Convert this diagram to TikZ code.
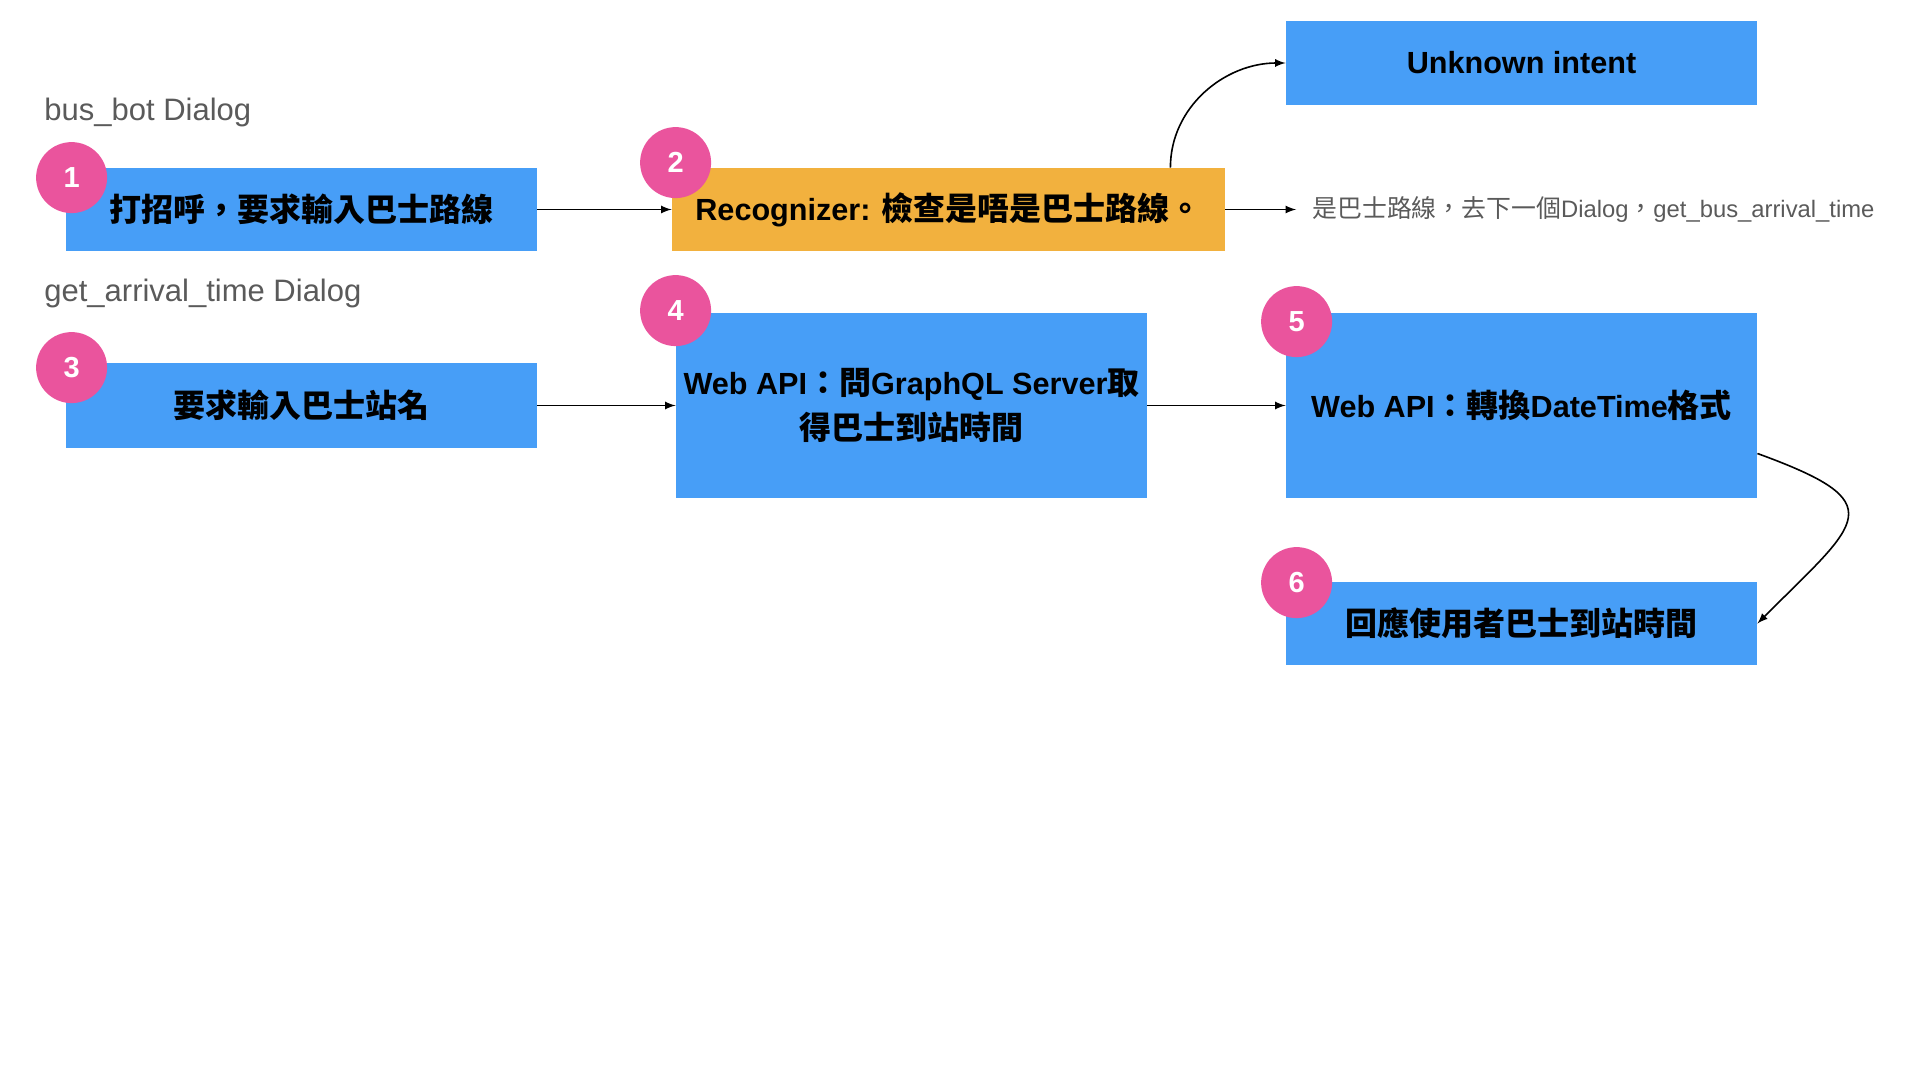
\documentclass[tikz,border=0pt]{standalone}
\usepackage{fontspec}
\setmainfont{Liberation Sans}
\newfontfamily\zhfont{Noto Sans CJK TC}[Scale=1.045]
\usetikzlibrary{positioning,arrows}
\definecolor{boxblue}{HTML}{479EF7}
\definecolor{recorange}{HTML}{F2B13E}
\definecolor{stepink}{HTML}{EA549D}
\definecolor{labelgrey}{HTML}{5A5A5A}

\begin{document}
\begin{tikzpicture}[x=0.5pt,y=-0.5pt,
  stepbox/.style={fill=boxblue,inner sep=0pt,minimum width=235.5pt,minimum height=41.5pt,align=center,font=\fontsize{15.3}{22.5}\selectfont\bfseries},
  stepnum/.style={circle,fill=stepink,text=white,minimum size=35.5pt,inner sep=0pt,font=\fontsize{14.5}{14.5}\selectfont\bfseries},
  dialog/.style={anchor=west,inner sep=0pt,text=labelgrey,font=\fontsize{15.5}{15.5}\selectfont},
  link/.style={-latex,thick}]
\useasboundingbox (0,0) rectangle (1920,1080);
\node (greet) [stepbox] at (301.5,209.5) {{\zhfont 打招呼，要求輸入巴士路線}};
\node (rec) [stepbox,fill=recorange,minimum width=276.5pt] at (948.5,209.5) {Recognizer: {\zhfont 檢查是唔是巴士路線。}};
\node (unknown) [stepbox,minimum height=42pt] at (1521.5,63) {Unknown intent};
\node (station) [stepbox,minimum height=42.5pt] at (301.5,405.5) {{\zhfont 要求輸入巴士站名}};
\node (query) [stepbox,minimum height=92.5pt] at (911.5,405.5) {Web API{\zhfont ：問}GraphQL Server{\zhfont 取}\\{\zhfont 得巴士到站時間}};
\node (convert) [stepbox,minimum height=92.5pt] at (1521.5,405.5) {Web API{\zhfont ：轉換}DateTime{\zhfont 格式}};
\node (reply) [stepbox] at (1521.5,623.5) {{\zhfont 回應使用者巴士到站時間}};

\node (botlbl) [dialog] at (44,112) {bus\_bot Dialog};
\node (arrlbl) [dialog] at (44,293) {get\_arrival\_time Dialog};
\node (nextdlg) [dialog,font=\fontsize{11.9}{11.9}\selectfont,inner xsep=8pt] at (1296,209.5) {{\zhfont 是巴士路線，去下一個}Dialog{\zhfont ，}get\_bus\_arrival\_time};

\node (n1) [stepnum] at ([shift={(6,10)}]greet.north west) {1};
\node (n2) [stepnum] at ([shift={(4,-5)}]rec.north west) {2};
\node (n3) [stepnum] at ([shift={(6,5)}]station.north west) {3};
\node (n4) [stepnum] at ([shift={(0,-2)}]query.north west) {4};
\node (n5) [stepnum] at ([shift={(11,9)}]convert.north west) {5};
\node (n6) [stepnum] at ([shift={(11,1)}]reply.north west) {6};

\draw [link] (greet) -- (rec);
\draw [link] (rec) -- (nextdlg);
\draw [link] (station) -- (query);
\draw [link] (query) -- (convert);
\draw [link] ([xshift=-27.5pt]rec.north east) to[out=90,in=180] (unknown.west);
\draw [link] ([yshift=-24pt]convert.east) to[out=-20,in=45,looseness=2.2] (reply.east);
\end{tikzpicture}
\end{document}
